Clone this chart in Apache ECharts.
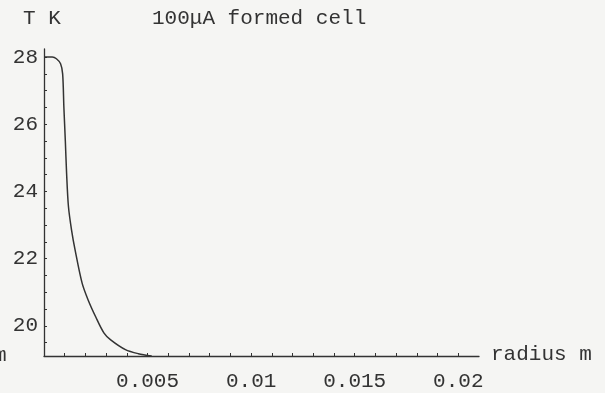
<!DOCTYPE html>
<html>
<head>
<meta charset="utf-8">
<script src="https://cdn.jsdelivr.net/npm/echarts@6/dist/echarts.min.js"></script>
<style>
html,body{margin:0;padding:0;background:#f5f5f3;}
#chart{width:605px;height:393px;}
</style>
</head>
<body>
<div id="chart"></div>
<script>
// radius (m)
const radius = [0, 0.0004, 0.0006, 0.0008, 0.0009, 0.00096, 0.00103, 0.00109, 0.00118, 0.00133, 0.0015, 0.00184, 0.00213, 0.0025, 0.00289, 0.00322, 0.00393, 0.00455, 0.0052];
// temperature (K)
const temperature = [28.0, 28.0, 27.95, 27.8, 27.5, 26.5, 25.5, 24.55, 23.55, 22.85, 22.26, 21.27, 20.77, 20.26, 19.79, 19.58, 19.29, 19.17, 19.1];
const xTickLabels = [0.005, 0.01, 0.015, 0.02];
const xTicks = [0.001,0.002,0.003,0.004,0.005,0.006,0.007,0.008,0.009,0.01,0.011,0.012,0.013,0.014,0.015,0.016,0.017,0.018,0.019,0.02];
const yTickLabels = [20, 22, 24, 26, 28];
const yTicks = [19.5,20,20.5,21,21.5,22,22.5,23,23.5,24,24.5,25,25.5,26,26.5,27,27.5,28];
const titleText = '100\u03bcA formed cell';
const yName = 'T K';
const xName = 'radius m';

const font = 'Liberation Mono';
const ink = '#333';
const chart = echarts.init(document.getElementById('chart'), null, {renderer: 'canvas'});
chart.setOption({
  backgroundColor: '#f5f5f3',
  animation: false,
  grid: {left: 44, top: 49, width: 435, height: 307},
  graphic: [
    {type: 'text', left: 23, top: 8, style: {text: yName, font: '21px ' + font, fill: ink}},
    {type: 'text', left: 152, top: 8, style: {text: titleText, font: '21px ' + font, fill: ink}},
    {type: 'text', left: 491, top: 344, style: {text: xName, font: '21px ' + font, fill: ink}},
    {type: 'text', left: -6, top: 345, style: {text: 'm', font: '21px ' + font, fill: ink}}
  ],
  xAxis: {
    type: 'value', min: 0, max: 0.021,
    splitLine: {show: false},
    axisLine: {lineStyle: {color: ink, width: 1.3}},
    axisTick: {inside: true, length: 3, customValues: xTicks, lineStyle: {color: ink}},
    axisLabel: {customValues: xTickLabels, margin: 15, color: ink, fontFamily: font, fontSize: 21,
      formatter: v => String(v)}
  },
  yAxis: {
    type: 'value', min: 19.1, max: 28.24,
    splitLine: {show: false},
    axisLine: {lineStyle: {color: ink, width: 1.3}},
    axisTick: {inside: true, length: 3, customValues: yTicks, lineStyle: {color: ink}},
    axisLabel: {customValues: yTickLabels, margin: 6, color: ink, fontFamily: font, fontSize: 21}
  },
  series: [{
    type: 'line',
    data: radius.map((r, i) => [r, temperature[i]]),
    showSymbol: false,
    smooth: 0.3,
    lineStyle: {color: ink, width: 1.5}
  }]
});
</script>
</body>
</html>
